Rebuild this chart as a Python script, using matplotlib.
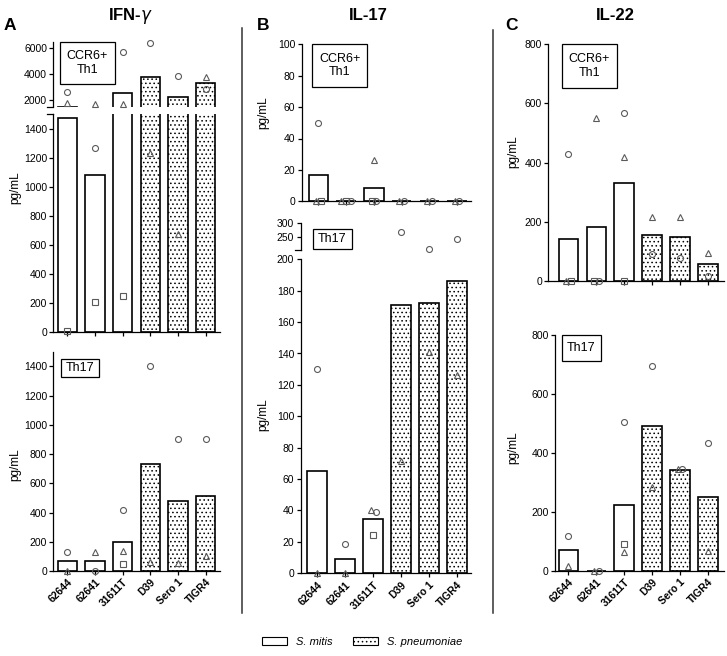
import numpy as np
import matplotlib
matplotlib.use('Agg')
import matplotlib.pyplot as plt
from matplotlib.patches import Rectangle, Patch
from matplotlib.lines import Line2D

plt.rcParams['font.family'] = ['Liberation Sans', 'DejaVu Sans']
plt.rcParams['hatch.linewidth'] = 0.6

nan = np.nan
strains = ['62644', '62641', '31611T', 'D39', 'Sero 1', 'TIGR4']
pneumo = [False, False, False, True, True, True]

# IFN-gamma
ifn_th1_bar = [1470, 1080, 2570, 3800, 2250, 3350]
ifn_th1_circle = [2600, 1265, 5750, 6400, 3860, 2830]
ifn_th1_triangle = [1750, 1700, 1670, 1230, 675, 3760]
ifn_th1_square = [10, 210, 250, nan, nan, nan]

ifn_th17_bar = [70, 65, 200, 730, 480, 510]
ifn_th17_circle = [132, 0, 415, 1400, 905, 905]
ifn_th17_triangle = [0, 128, 139, 62, 52, 105]
ifn_th17_square = [nan, nan, 46, nan, nan, nan]

# IL-17
il17_th1_bar = [17, 0, 8.5, 0, 0, 0]
il17_th1_circle = [50, 0, 0, 0, 0, 0]
il17_th1_triangle = [0, 0, 26, 0, 0, 0]
il17_th1_square = [0, 0, 0, nan, nan, nan]

il17_th17_bar = [65, 9, 34.5, 171, 172, 186]
il17_th17_circle = [130, 18.5, 39, 268, 210, 244]
il17_th17_triangle = [0, 0, 40, 71.5, 141, 126]
il17_th17_square = [nan, nan, 24.5, nan, nan, nan]

# IL-22
il22_th1_bar = [143, 184, 330, 156, 148, 57]
il22_th1_circle = [430, 0, 567, 90, 79, 17]
il22_th1_triangle = [0, 551, 420, 217, 215, 94]
il22_th1_square = [0, 0, 0, nan, nan, nan]

il22_th17_bar = [70, 0, 223, 490, 344, 250]
il22_th17_circle = [120, 0, 505, 695, 345, 433]
il22_th17_triangle = [18, 0, 65, 286, 345, 68]
il22_th17_square = [nan, nan, 90, nan, nan, nan]

W, H = 727, 656
fig = plt.figure(figsize=(W/100, H/100), dpi=100)

tick_fs = 7.5
mk_col = '#5a5a5a'
dots = '....'


def add_ax(x0, y0, x1, y1):
    return fig.add_axes([x0/W, 1-y1/H, (x1-x0)/W, (y1-y0)/H])


def style(ax, xlim, ylim, yticks, xaxis=True):
    ax.set_xlim(xlim)
    ax.set_ylim(ylim)
    ax.set_yticks(yticks)
    ax.set_xticks(range(6))
    ax.set_xticklabels([])
    for s in ['top', 'right']:
        ax.spines[s].set_visible(False)
    for s in ['left', 'bottom']:
        ax.spines[s].set_linewidth(0.9)
    ax.tick_params(length=3, width=0.9, labelsize=tick_fs, pad=1.5)
    ax.patch.set_alpha(0)
    if not xaxis:
        ax.spines['bottom'].set_visible(False)
        ax.tick_params(axis='x', bottom=False)


def draw(axs, bar, circle, triangle, square):
    x = np.arange(6)
    for ax in axs:
        for i in range(6):
            ax.bar(x[i], bar[i], width=0.7, facecolor='white', edgecolor='black',
                   linewidth=1.2, hatch=dots if pneumo[i] else None, zorder=2)
    kinds = [('^', triangle), ('s', square), ('o', circle)]
    for i in range(6):
        pts = []
        for m, vals in kinds:
            v = vals[i]
            if np.isnan(v):
                continue
            for ax in axs:
                lo, hi = ax.get_ylim()
                if lo - 1e-9 <= v <= hi:
                    pts.append([m, v, ax, ax.transData.transform((0, v))[1]])
                    break
        clusters = []
        for p in pts:
            for c in clusters:
                if any(abs(p[3] - q[3]) < 6 for q in c):
                    c.append(p)
                    break
            else:
                clusters.append([p])
        for c in clusters:
            n = len(c)
            for k, p in enumerate(c):
                dx = (k - (n-1)/2) * 0.17
                p[2].plot(i + dx, p[1], marker=p[0], ms=4.3 if p[0] != 's' else 4.0,
                          mfc='none', mec=mk_col, mew=0.8, ls='none',
                          clip_on=False, zorder=4)


def label_box(x0, y0, x1, y1, text):
    fig.add_artist(Rectangle((x0/W, 1-y1/H), (x1-x0)/W, (y1-y0)/H, transform=fig.transFigure,
                             facecolor='white', edgecolor='black', lw=0.9, zorder=5))
    fig.text((x0+x1)/2/W, 1-(y0+y1)/2/H, text, ha='center', va='center',
             fontsize=9, linespacing=1.15, zorder=6)


def brk(x, y):
    fig.add_artist(Line2D([(x-6)/W, x/W], [1-y/H, 1-y/H], color='black', lw=0.9))


def ylab(x, y):
    fig.text(x/W, 1-y/H, 'pg/mL', rotation=90, ha='center', va='center', fontsize=8.5)


# ---------- A: IFN-gamma
xa = (-0.505, 5.52)
a_up = add_ax(53.3, 41.8, 220, 106.5)
a_lo = add_ax(53.3, 114, 220, 332.3)
style(a_up, xa, (1500, 6500), [2000, 4000, 6000], xaxis=False)
style(a_lo, xa, (0, 1500), range(0, 1401, 200))
draw([a_up, a_lo], ifn_th1_bar, ifn_th1_circle, ifn_th1_triangle, ifn_th1_square)
brk(53.3, 106.5)
brk(53.3, 114)

a_b = add_ax(53.3, 351.7, 220, 571)
style(a_b, xa, (0, 1500), range(0, 1401, 200))
draw([a_b], ifn_th17_bar, ifn_th17_circle, ifn_th17_triangle, ifn_th17_square)

# ---------- B: IL-17
xb = (-0.6, 5.5)
b_t = add_ax(301.7, 44.3, 471, 201.3)
style(b_t, xb, (0, 100), range(0, 101, 20))
draw([b_t], il17_th1_bar, il17_th1_circle, il17_th1_triangle, il17_th1_square)

b_up = add_ax(300.5, 223.3, 471, 250)
b_lo = add_ax(300.5, 259.3, 471, 573.3)
style(b_up, xb, (205, 300), [250, 300], xaxis=False)
style(b_lo, xb, (0, 200), range(0, 201, 20))
draw([b_up, b_lo], il17_th17_bar, il17_th17_circle, il17_th17_triangle, il17_th17_square)
brk(300.5, 250)

# ---------- C: IL-22
c_t = add_ax(548.3, 44.3, 723.5, 281)
style(c_t, (-0.72, 5.56), (0, 800), range(0, 801, 200))
draw([c_t], il22_th1_bar, il22_th1_circle, il22_th1_triangle, il22_th1_square)

c_b = add_ax(555, 335, 723.5, 571)
style(c_b, (-0.48, 5.56), (0, 800), range(0, 801, 200))
draw([c_b], il22_th17_bar, il22_th17_circle, il22_th17_triangle, il22_th17_square)

for ax in [a_b, b_lo, c_b]:
    ax.set_xticklabels(strains, rotation=45, ha='right', rotation_mode='anchor',
                       fontweight='bold', fontsize=tick_fs)

# boxes
label_box(60, 42, 115, 84, 'CCR6+\nTh1')
label_box(61, 359, 99, 377, 'Th17')
label_box(312, 44.3, 367.3, 87.3, 'CCR6+\nTh1')
label_box(312.7, 228.7, 351.7, 249.3, 'Th17')
label_box(561.7, 44.3, 616.7, 87.7, 'CCR6+\nTh1')
label_box(561.7, 335, 600.7, 360.7, 'Th17')

# y labels
ylab(15, 188)
ylab(15, 465)
ylab(263, 113)
ylab(263, 415)
ylab(513, 152)
ylab(513, 448)

# titles
for x, t in [(130, 'IFN-$\\gamma$'), (368, 'IL-17'), (615, 'IL-22')]:
    fig.text(x/W, 1-16/H, t, ha='center', va='center', fontsize=12, fontweight='bold')
for x, t in [(10, 'A'), (262.7, 'B'), (511.7, 'C')]:
    fig.text(x/W, 1-25/H, t, ha='center', va='center', fontsize=12.5, fontweight='bold')

# separators
for x, y0 in [(242, 28), (493, 30)]:
    fig.add_artist(Line2D([x/W, x/W], [1-y0/H, 1-613/H], color='#333333', lw=1.1))

handles = [Patch(facecolor='white', edgecolor='black', lw=0.8),
           Patch(facecolor='white', edgecolor='black', lw=0.8, hatch=dots)]
fig.legend(handles, ['S. mitis', 'S. pneumoniae'], loc='center', ncol=2,
           bbox_to_anchor=(362/W, 1-642/H), frameon=False,
           prop={'style': 'italic', 'size': 8}, handlelength=2.3, handleheight=0.7,
           handletextpad=0.8, columnspacing=1.8)

fig.savefig('out.png', dpi=100)
